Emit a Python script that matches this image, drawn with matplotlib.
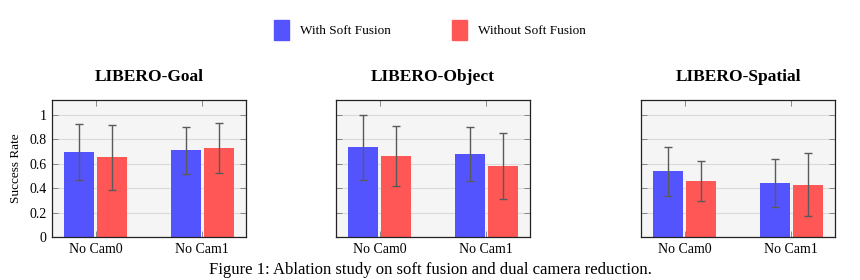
import matplotlib
matplotlib.use("Agg")
import matplotlib.pyplot as plt
import numpy as np

plt.rcParams["font.family"] = ["Liberation Serif", "DejaVu Serif"]

tasks = ["LIBERO-Goal", "LIBERO-Object", "LIBERO-Spatial"]
groups = ["No Cam0", "No Cam1"]
series = ["With Soft Fusion", "Without Soft Fusion"]

with_fusion = [[0.70, 0.71], [0.735, 0.68], [0.54, 0.445]]
with_fusion_err = [[0.23, 0.19], [0.265, 0.22], [0.20, 0.197]]
without_fusion = [[0.653, 0.73], [0.664, 0.582], [0.456, 0.43]]
without_fusion_err = [[0.265, 0.205], [0.245, 0.27], [0.165, 0.26]]

colors = ["#5454ff", "#ff5656"]
caption = "Figure 1: Ablation study on soft fusion and dual camera reduction."

fig = plt.figure(figsize=(8.6, 2.8), dpi=100)
lefts = [52, 336, 641]
W, H = 860, 280
ax_w, ax_top, ax_bot = 194, 100, 237

x = np.arange(len(groups))
bw = 0.28
off = 0.155

for i, task in enumerate(tasks):
    ax = fig.add_axes([lefts[i] / W, 1 - ax_bot / H, ax_w / W, (ax_bot - ax_top) / H])
    ax.set_facecolor("#f5f5f5")
    ax.set_axisbelow(True)
    ax.grid(axis="y", color="#dadada", linewidth=0.8)
    for vals, errs, c, dx in [(with_fusion[i], with_fusion_err[i], colors[0], -off),
                               (without_fusion[i], without_fusion_err[i], colors[1], off)]:
        ax.bar(x + dx, vals, width=bw, color=c, zorder=2)
        ax.errorbar(x + dx, vals, yerr=errs, fmt="none", ecolor="#5a5a5a",
                    elinewidth=1.0, capsize=3, capthick=1.0, zorder=3)
    ax.set_xlim(-0.41, 1.41)
    ax.set_ylim(0, 1.123)
    ax.set_yticks([0, 0.2, 0.4, 0.6, 0.8, 1.0])
    ax.set_yticklabels(["0", "0.2", "0.4", "0.6", "0.8", "1"] if i == 0 else [])
    ax.set_xticks(x)
    ax.set_xticklabels(groups)
    ax.tick_params(axis="both", direction="in", top=True, right=True,
                   length=4, width=0.6, color="#777777", labelsize=10, pad=4)
    for s in ax.spines.values():
        s.set_color("#222222")
        s.set_linewidth(0.9)
    ax.set_title(task, fontsize=12.5, fontweight="bold", pad=14)
    if i == 0:
        ax.set_ylabel("Success Rate", fontsize=9.5, labelpad=5)

handles = [plt.Rectangle((0, 0), 1, 1, color=c) for c in colors]
fig.legend(handles, series, loc="center", bbox_to_anchor=(0.5, 1 - 30 / H), ncol=2,
           frameon=False, fontsize=9.5, handlelength=1.15, handleheight=2.0,
           handletextpad=0.85, columnspacing=4.6)

# caption sits at the very bottom edge, as in the paper crop
fig.text(0.5, 2 / H, caption, ha="center", va="bottom", fontsize=12)

fig.savefig("out.png", dpi=100)
